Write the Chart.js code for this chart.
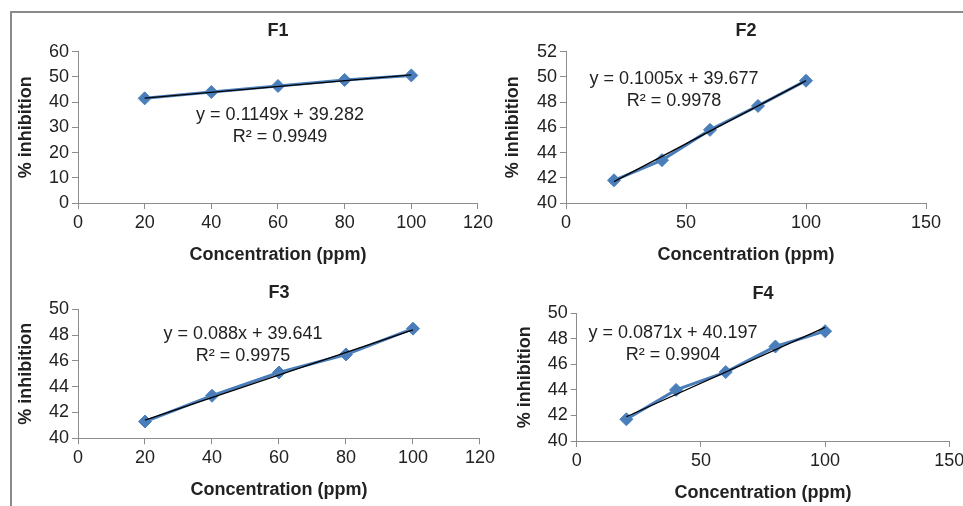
<!DOCTYPE html>
<html>
<head>
<meta charset="utf-8">
<script src="https://cdn.jsdelivr.net/npm/chart.js@4.4.1/dist/chart.umd.min.js"></script>
<style>
  html, body { margin: 0; padding: 0; background: #fff; overflow: hidden; }
  #page { position: relative; width: 963px; height: 506px; overflow: hidden; }
  #frame { position: absolute; left: 10px; top: 11px; width: 960px; height: 500px;
           border-top: 2px solid #8a8a8a; border-left: 2px solid #8a8a8a; }
  canvas { position: absolute; }
</style>
</head>
<body>
<div id="page">
  <div id="frame"></div>
  <canvas id="f1"></canvas>
  <canvas id="f2"></canvas>
  <canvas id="f3"></canvas>
  <canvas id="f4"></canvas>
</div>
<script>
// concentration (ppm) on x, % inhibition on y
const concentration = [20, 40, 60, 80, 100];
const inhibitionF1 = [41.5, 44.0, 46.4, 48.8, 50.6];
const inhibitionF2 = [41.8, 43.4, 45.8, 47.7, 49.7];
const inhibitionF3 = [41.3, 43.3, 45.1, 46.5, 48.5];
const inhibitionF4 = [41.7, 44.0, 45.4, 47.4, 48.6];

// linear trendline end points (x = 20 and x = 100)
const trendX = [20, 100];
const trendF1 = [41.6, 50.8];
const trendF2 = [41.7, 49.7];
const trendF3 = [41.4, 48.4];
const trendF4 = [41.9, 48.9];

const equations = ['y = 0.1149x + 39.282', 'y = 0.1005x + 39.677', 'y = 0.088x + 39.641', 'y = 0.0871x + 40.197'];
const rSquared = ['R² = 0.9949', 'R² = 0.9978', 'R² = 0.9975', 'R² = 0.9904'];
const panelNames = ['F1', 'F2', 'F3', 'F4'];

const FONT = '"Liberation Sans", Arial, sans-serif';
const TEXT = '#222';
const AXIS = '#8c8c8c';
const BLUE = '#4a7ebb';
Chart.defaults.font.family = FONT;

// page layout of each panel: canvas [left, top, w, h], plot area [l, r, t, b]
const panels = [
  { id: 'f1', y: inhibitionF1, trend: trendF1, canvas: [12, 13, 484, 257], area: [78, 482, 51.7, 203],
    titleY: 31, xTitleY: 255, yTitleX: 26, eqX: 280, eqY: 115,
    xMax: 120, xStep: 20, yMin: 0, yMax: 60, yStep: 10 },
  { id: 'f2', y: inhibitionF2, trend: trendF2, canvas: [500, 13, 463, 257], area: [566, 926, 51.7, 203],
    titleY: 31, xTitleY: 255, yTitleX: 513, eqX: 674, eqY: 79,
    xMax: 150, xStep: 50, yMin: 40, yMax: 52, yStep: 2 },
  { id: 'f3', y: inhibitionF3, trend: trendF3, canvas: [12, 272, 486, 234], area: [78, 484.7, 309.3, 438.3],
    titleY: 293.3, xTitleY: 490, yTitleX: 26, eqX: 243, eqY: 334,
    xMax: 120, xStep: 20, yMin: 40, yMax: 50, yStep: 2 },
  { id: 'f4', y: inhibitionF4, trend: trendF4, canvas: [500, 272, 480, 234], area: [576.7, 949.3, 313.3, 441],
    titleY: 294.3, xTitleY: 493.3, yTitleX: 525, eqX: 673, eqY: 333,
    xMax: 150, xStep: 50, yMin: 40, yMax: 50, yStep: 2 }
];

function buildChart(p, i) {
  const [cl, ct, cw, ch] = p.canvas;
  const [al, ar, at, ab] = p.area;
  const canvas = document.getElementById(p.id);
  canvas.width = cw;
  canvas.height = ch;
  canvas.style.left = cl + 'px';
  canvas.style.top = ct + 'px';

  const LH = 18 * 1.2;
  const titleTop = p.titleY - ct - LH / 2;
  const titleBottom = (at - ct) - titleTop - LH;
  const yAxisWidth = al - cl;
  const xAxisHeight = (ct + ch) - ab;
  const xTitleBottom = (ct + ch) - p.xTitleY - LH / 2;
  const yTitleTop = p.yTitleX - cl - LH / 2;

  const equationLabel = {
    id: 'equationLabel',
    afterDatasetsDraw(chart) {
      const ctx = chart.ctx;
      ctx.save();
      ctx.font = '18px ' + FONT;
      ctx.fillStyle = TEXT;
      ctx.textAlign = 'center';
      ctx.textBaseline = 'middle';
      ctx.fillText(equations[i], p.eqX - cl, p.eqY - ct);
      ctx.fillText(rSquared[i], p.eqX - cl, p.eqY - ct + 21.8);
      ctx.restore();
    }
  };

  return new Chart(canvas, {
    type: 'scatter',
    data: {
      datasets: [
        {
          data: trendX.map((x, k) => ({ x, y: p.trend[k] })),
          showLine: true,
          borderColor: '#000',
          borderWidth: 1.3,
          pointRadius: 0,
          order: 0
        },
        {
          data: concentration.map((x, k) => ({ x, y: p.y[k] })),
          showLine: true,
          borderColor: BLUE,
          backgroundColor: BLUE,
          borderWidth: 3,
          pointStyle: 'rectRot',
          pointRadius: 6.5,
          pointBorderWidth: 1,
          pointBorderColor: BLUE,
          order: 1
        }
      ]
    },
    options: {
      responsive: false,
      animation: false,
      events: [],
      layout: { padding: { left: 0, top: 0, bottom: 0, right: (cl + cw) - ar } },
      plugins: {
        legend: { display: false },
        tooltip: { enabled: false },
        title: {
          display: true,
          text: panelNames[i],
          fullSize: false,
          color: TEXT,
          font: { size: 18, weight: 'bold' },
          padding: { top: titleTop, bottom: titleBottom }
        }
      },
      scales: {
        x: {
          type: 'linear',
          min: 0,
          max: p.xMax,
          afterFit: s => { s.height = xAxisHeight; },
          ticks: { stepSize: p.xStep, color: TEXT, font: { size: 18 }, padding: 3, maxRotation: 0 },
          grid: { drawOnChartArea: false, drawTicks: true, tickLength: 6, color: AXIS },
          border: { color: AXIS },
          title: {
            display: true,
            text: 'Concentration (ppm)',
            color: TEXT,
            font: { size: 18, weight: 'bold' },
            padding: { top: 0, bottom: xTitleBottom }
          }
        },
        y: {
          min: p.yMin,
          max: p.yMax,
          afterFit: s => { s.width = yAxisWidth; },
          ticks: { stepSize: p.yStep, color: TEXT, font: { size: 18 }, padding: 3 },
          grid: { drawOnChartArea: false, drawTicks: true, tickLength: 6, color: AXIS },
          border: { color: AXIS },
          title: {
            display: true,
            text: '% inhibition',
            color: TEXT,
            font: { size: 18, weight: 'bold' },
            padding: { top: yTitleTop, bottom: 0 }
          }
        }
      }
    },
    plugins: [equationLabel]
  });
}

panels.forEach(buildChart);
</script>
</body>
</html>
